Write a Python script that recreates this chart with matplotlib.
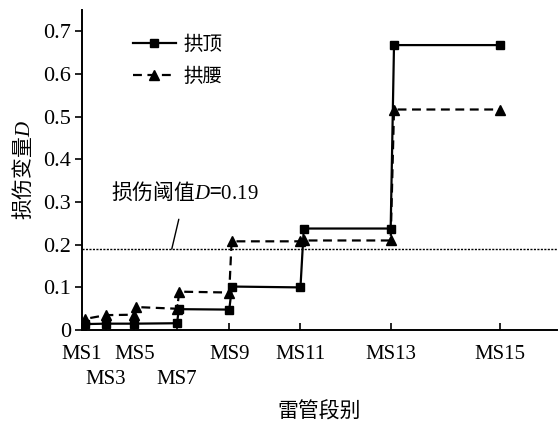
import numpy as np
import matplotlib.pyplot as plt

plt.rcParams['font.family'] = ['Liberation Serif', 'Noto Sans CJK SC']
plt.rcParams['mathtext.fontset'] = 'custom'
plt.rcParams['mathtext.it'] = 'Liberation Serif:italic'
plt.rcParams['mathtext.rm'] = 'Liberation Serif'
plt.rcParams['mathtext.sf'] = 'Liberation Serif'
cjk = ['Noto Sans CJK SC', 'Liberation Serif']

# delay time of each detonator segment (ms)
row1_pos = [0, 110, 310, 460, 650, 880]
row1_labels = ['MS1', 'MS5', 'MS9', 'MS11', 'MS13', 'MS15']
row2_pos = [50, 200]
row2_labels = ['MS3', 'MS7']

# 拱顶 (crown)
crown_x = [0, 6, 50, 110, 200, 204, 310, 316, 460, 467, 650, 657, 880]
crown_d = [0.003, 0.014, 0.015, 0.015, 0.016, 0.049, 0.048, 0.102, 0.100,
           0.238, 0.238, 0.668, 0.668]

# 拱腰 (haunch)
haunch_x = [0, 6, 50, 110, 113, 200, 205, 310, 315, 460, 467, 650, 657, 880]
haunch_d = [0.006, 0.026, 0.035, 0.036, 0.054, 0.050, 0.090, 0.088, 0.208,
            0.208, 0.210, 0.210, 0.517, 0.517]

threshold = 0.19

fig = plt.figure(figsize=(5.58, 4.21), dpi=100)
ax = fig.add_axes([0.147, 0.216, 0.851, 0.760])

ax.plot(crown_x, crown_d, color='black', linestyle='-', linewidth=1.6,
        marker='s', markersize=6, label='拱顶')
ax.plot(haunch_x, haunch_d, color='black', linestyle=(0, (4, 2.5)), linewidth=1.6,
        marker='^', markersize=6.5, label='拱腰')
ax.axhline(threshold, color='black', linestyle=(0, (1.5, 1)), linewidth=1.0)

ax.annotate('损伤阈值$D$=$\\mathsf{0.19}$', xy=(189, threshold), xytext=(217, 0.322),
            ha='center', va='center', fontsize=15, family=cjk,
            arrowprops=dict(arrowstyle='-', color='black', linewidth=1.0,
                            shrinkA=9, shrinkB=0))

ax.set_xlim(0, 1000)
ax.set_ylim(0, 0.75)
ax.set_xticks(row1_pos)
ax.set_xticklabels(row1_labels, fontsize=15)
ax.set_xticks(row2_pos, minor=True)
ax.set_xticklabels(row2_labels, minor=True, fontsize=15)
ax.set_yticks(np.arange(0, 0.71, 0.1))
ax.set_yticklabels(['0', '0.1', '0.2', '0.3', '0.4', '0.5', '0.6', '0.7'], fontsize=16)
ax.tick_params(axis='x', which='major', direction='in', length=5, width=1.2, pad=11)
ax.tick_params(axis='x', which='minor', direction='in', length=5, width=1.2, pad=29)
ax.tick_params(axis='y', direction='out', length=5, width=1.2, pad=3)

for s in ['top', 'right']:
    ax.spines[s].set_visible(False)
for s in ['left', 'bottom']:
    ax.spines[s].set_linewidth(1.4)

ax.set_ylabel('损伤变量$D$', fontsize=15, labelpad=6, family=cjk)
ax.set_xlabel('雷管段别', fontsize=15, labelpad=8, family=cjk)

ax.legend(loc='upper left', bbox_to_anchor=(0.07, 0.975), frameon=False,
          fontsize=14, handlelength=2.2, handletextpad=0.4, labelspacing=0.7)

fig.savefig('out.png', dpi=100)
